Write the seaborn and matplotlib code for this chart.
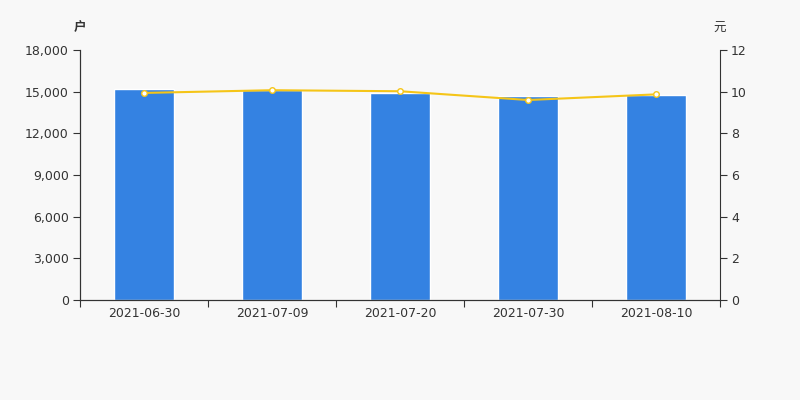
import numpy as np
import pandas as pd
import matplotlib
matplotlib.use('Agg')
import matplotlib.pyplot as plt
import seaborn as sns
from matplotlib.ticker import FuncFormatter, FixedLocator

# Dados
datas = ['2021-06-30', '2021-07-09', '2021-07-20', '2021-07-30', '2021-08-10']
holders = [15200, 15150, 14920, 14680, 14760]
avg_price = [9.94, 10.07, 10.02, 9.60, 9.87]

sns.set_theme(style='white')
plt.rcParams['font.family'] = ['DejaVu Sans', 'Noto Sans CJK SC']
plt.rcParams['axes.unicode_minus'] = False

df = pd.DataFrame({'data': datas, 'holders': holders, 'price': avg_price})

bg = '#f8f8f8'
txt = '#333333'
fig = plt.figure(figsize=(8, 4), dpi=100, facecolor=bg)
ax = fig.add_axes([0.1, 0.25, 0.8, 0.625], facecolor=bg)

sns.barplot(data=df, x='data', y='holders', color='#3482e2', width=0.47,
            saturation=1, ax=ax)
ax.set_ylim(0, 18000)
ax.set_yticks(np.arange(0, 18001, 3000))
ax.yaxis.set_major_formatter(FuncFormatter(lambda v, p: f'{int(v):,}'))
ax.set_xlim(-0.5, len(datas) - 0.5)
ax.set_xlabel('')
ax.set_ylabel('')

# ticks nas fronteiras das categorias
ax.xaxis.set_minor_locator(FixedLocator(np.arange(-0.5, len(datas), 1)))
ax.tick_params(axis='x', which='major', length=0, pad=5, labelsize=9, labelcolor=txt)
ax.tick_params(axis='x', which='minor', length=5, color=txt, width=0.8, bottom=True)
ax.tick_params(axis='y', length=5, color=txt, width=0.8, left=True, labelsize=9,
               labelcolor=txt, pad=3)

ax2 = ax.twinx()
sns.lineplot(x=np.arange(len(datas)), y=avg_price, color='#f5c518', lw=1.5,
             marker='o', markersize=4, markerfacecolor='white',
             markeredgecolor='#f5c518', markeredgewidth=1, ax=ax2)
ax2.set_ylim(0, 12)
ax2.set_yticks(np.arange(0, 13, 2))
ax2.tick_params(axis='y', length=5, color=txt, width=0.8, right=True, labelsize=9,
                labelcolor=txt, pad=3)

for a in (ax, ax2):
    a.grid(False)
    a.spines['top'].set_visible(False)
    for s in ('left', 'right', 'bottom'):
        a.spines[s].set_color(txt)
        a.spines[s].set_linewidth(0.8)
ax.spines['right'].set_visible(False)

fig.text(0.1, 0.93, '户', ha='center', va='center', fontsize=9, color=txt,
         fontweight='bold')
fig.text(0.9, 0.93, '元', ha='center', va='center', fontsize=9, color=txt)

fig.savefig('out.png', dpi=100, facecolor=bg)
